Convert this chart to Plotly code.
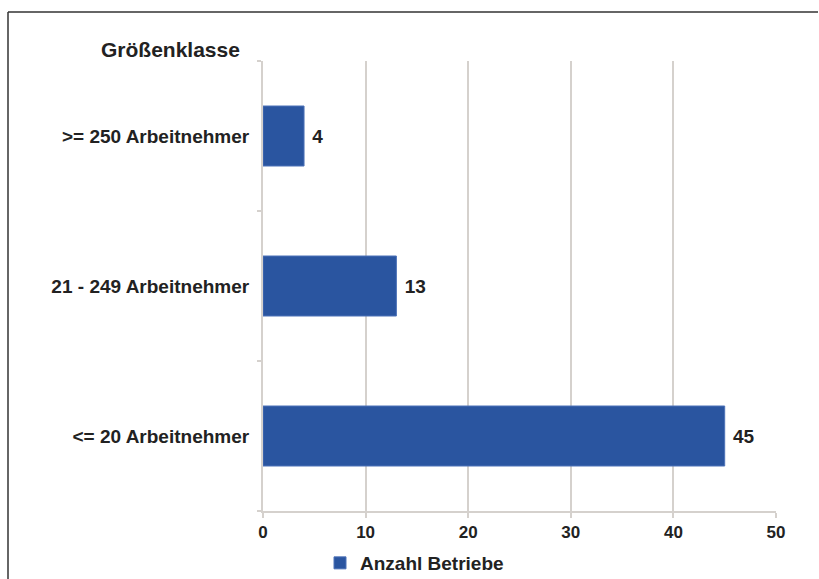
import plotly.graph_objects as go

groessenklassen = ["<= 20 Arbeitnehmer", "21 - 249 Arbeitnehmer", ">= 250 Arbeitnehmer"]
anzahl_betriebe = [45, 13, 4]
x_ticks = [0, 10, 20, 30, 40, 50]

bar_color = "#2a55a0"
grid_color = "#d5d1cd"
font_family = "Liberation Sans, Arial, sans-serif"

# plot area in pixels: x 263..776, y 61..511
L, R, T, B = 263, 43, 61, 68
W, H = 819, 579
pw, ph = W - L - R, H - T - B

def px_x(x):
    return (x - L) / pw

def px_y(y):
    return (H - B - y) / ph

fig = go.Figure()
fig.add_trace(go.Bar(
    x=anzahl_betriebe,
    y=groessenklassen,
    orientation="h",
    name="Anzahl Betriebe",
    marker=dict(color=bar_color, line=dict(color="#4d72b8", width=1)),
    text=anzahl_betriebe,
    texttemplate=" %{x}",
    textposition="outside",
    textfont=dict(family=font_family, size=19, color="#222", weight="bold"),
    cliponaxis=False,
))

fig.update_layout(
    width=W, height=H,
    margin=dict(l=L, r=R, t=T, b=B, autoexpand=False),
    paper_bgcolor="white",
    plot_bgcolor="white",
    bargap=0.6,
    font=dict(family=font_family, color="#222"),
    showlegend=True,
    legend=dict(
        orientation="h",
        itemwidth=30,
        x=px_x(320), xanchor="left",
        y=px_y(563), yanchor="middle",
        font=dict(size=19, weight="bold", color="#222"),
    ),
    xaxis=dict(
        range=[0, 50],
        tickvals=x_ticks,
        showgrid=True, gridcolor=grid_color, gridwidth=2,
        showline=True, linecolor=grid_color, linewidth=2,
        ticks="outside", ticklen=5, tickcolor=grid_color, tickwidth=2,
        tickfont=dict(size=17, weight="bold", color="#222"),
        zeroline=False,
        fixedrange=True,
    ),
    yaxis=dict(
        categoryorder="array", categoryarray=groessenklassen,
        showline=True, linecolor=grid_color, linewidth=2,
        ticks="outside", ticklen=4, tickcolor=grid_color, tickwidth=2,
        tickson="boundaries",
        ticklabelstandoff=8,
        tickfont=dict(size=19, weight="bold", color="#222"),
        showgrid=False,
    ),
    annotations=[dict(
        text="Größenklasse",
        xref="paper", yref="paper",
        x=px_x(242), y=px_y(50),
        xanchor="right", yanchor="middle",
        showarrow=False,
        font=dict(size=21, weight="bold", color="#222"),
    )],
    shapes=[
        # frame: left edge and top edge
        dict(type="line", xref="paper", yref="paper",
             x0=px_x(8), x1=px_x(8), y0=px_y(12), y1=px_y(579),
             line=dict(color="#333", width=1.5)),
        dict(type="line", xref="paper", yref="paper",
             x0=px_x(8), x1=px_x(818), y0=px_y(12), y1=px_y(12),
             line=dict(color="#333", width=1.5)),
    ],
)

# the page body has a default margin; drop it so the figure sits at 0,0
fig.write_html("out.html", config={"displayModeBar": False},
               post_script="document.body.style.margin='0';"
                           "document.body.style.overflow='hidden';"
                           "document.documentElement.style.overflow='hidden';")
